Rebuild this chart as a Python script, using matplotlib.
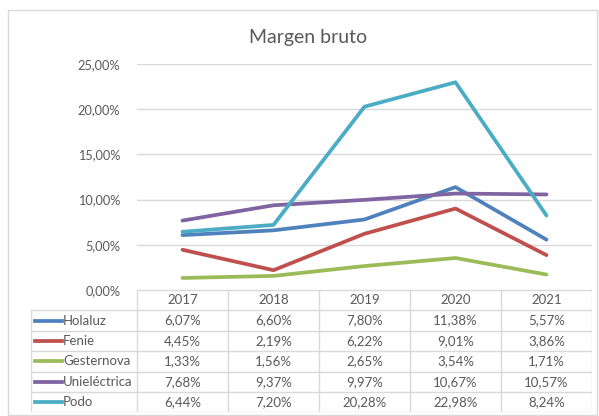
import numpy as np
import matplotlib.pyplot as plt
from matplotlib.patches import Rectangle
from matplotlib.ticker import FuncFormatter

years = ['2017', '2018', '2019', '2020', '2021']
series = ['Holaluz', 'Fenie', 'Gesternova', 'Unieléctrica', 'Podo']
holaluz = [6.07, 6.60, 7.80, 11.38, 5.57]
fenie = [4.45, 2.19, 6.22, 9.01, 3.86]
gesternova = [1.33, 1.56, 2.65, 3.54, 1.71]
unielectrica = [7.68, 9.37, 9.97, 10.67, 10.57]
podo = [6.44, 7.20, 20.28, 22.98, 8.24]
values = [holaluz, fenie, gesternova, unielectrica, podo]
colors = ['#4F81BD', '#C0504D', '#9BBB59', '#8064A2', '#4BACC6']

W, H = 599, 416
plt.rcParams['font.family'] = ['Lato', 'DejaVu Sans']
txt = '#595959'
grid = '#D9D9D9'


def fx(px):
    return px / W


def fy(py):
    return 1 - py / H


fig = plt.figure(figsize=(W / 100, H / 100), dpi=100)
fig.patches.append(Rectangle((fx(8), fy(415)), fx(589), 405 / H, transform=fig.transFigure,
                             fill=False, edgecolor=grid, lw=1))

pl, pr, pt, pb = 137, 592, 64, 290
ax = fig.add_axes([fx(pl), fy(pb), fx(pr - pl), (pb - pt) / H])
x = np.arange(len(years))
for v, c in zip(values, colors):
    ax.plot(x, v, color=c, lw=2.7, solid_capstyle='round', zorder=3)
ax.set_xlim(-0.5, len(years) - 0.5)
ax.set_ylim(0, 25)
ax.set_yticks(np.arange(0, 26, 5))
ax.yaxis.set_major_formatter(FuncFormatter(lambda v, p: '{:.2f}%'.format(v).replace('.', ',')))
ax.tick_params(axis='y', length=0, pad=12, labelsize=9.2, labelcolor=txt)
ax.set_xticks([])
ax.grid(axis='y', color=grid, lw=1)
ax.set_axisbelow(True)
for s in ax.spines.values():
    s.set_visible(False)
fig.text(fx(308), fy(37), 'Margen bruto', ha='center', va='center', fontsize=14, color=txt)

# data table
tl = 31
row_h = 20.4
tb = pb + row_h * 6
tax = fig.add_axes([fx(tl), fy(tb), fx(pr - tl), (tb - pb) / H])
tax.set_xlim(tl, pr)
tax.set_ylim(tb, pb)
tax.axis('off')
colw = (pr - pl) / len(years)
lc = grid
tax.plot([pl, pr], [pb, pb], color=lc, lw=1)
for i in range(1, 7):
    yy = pb + row_h * i
    tax.plot([tl, pr], [yy, yy], color=lc, lw=1)
tax.plot([tl, tl], [pb + row_h, tb], color=lc, lw=1)
for j in range(len(years) + 1):
    xx = pl + colw * j
    tax.plot([xx, xx], [pb, tb], color=lc, lw=1)
fs = 9.5
for j, yr in enumerate(years):
    tax.text(pl + colw * (j + 0.5), pb + row_h * 0.5, yr, ha='center', va='center',
             fontsize=fs, color=txt)
for i, (name, v, c) in enumerate(zip(series, values, colors)):
    yc = pb + row_h * (i + 1.5)
    tax.plot([35, 62], [yc, yc], color=c, lw=2.7)
    tax.text(63, yc, name, ha='left', va='center', fontsize=fs, color=txt)
    for j, val in enumerate(v):
        tax.text(pl + colw * (j + 0.5), yc, '{:.2f}%'.format(val).replace('.', ','),
                 ha='center', va='center', fontsize=fs, color=txt)

fig.savefig('out.png', dpi=100)
